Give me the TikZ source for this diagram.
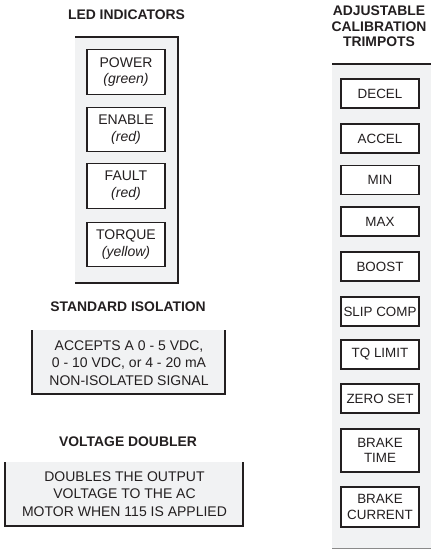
\documentclass[tikz,border=0pt]{standalone}
\usepackage{fontspec}
\setmainfont{Liberation Sans}
\definecolor{ink}{HTML}{231F20}
\definecolor{panelfill}{HTML}{F1F2F3}
\definecolor{edgegray}{HTML}{8A8A8A}
\tikzset{
  title/.style={inner sep=0pt, text=ink, align=center, font=\bfseries\fontsize{13.9}{15.6}\selectfont},
  ledbox/.style={draw=ink, line width=1.2pt, fill=white, minimum width=78pt, minimum height=44.5pt, inner sep=0pt, align=center, text=ink, font=\fontsize{14}{16.8}\selectfont},
  trimbox/.style={draw=ink, line width=1.2pt, fill=white, minimum width=78pt, minimum height=29pt, inner sep=0pt, align=center, text=ink, font=\fontsize{13.4}{15.4}\selectfont},
  infotext/.style={inner sep=0pt, align=center, text=ink, font=\fontsize{14}{17.8}\selectfont},
  border/.style={draw=ink, line width=1.2pt},
}
\begin{document}
\begin{tikzpicture}[x=1pt, y=-1pt]
\useasboundingbox (0,0) rectangle (431,549);
% LED panel
\fill[panelfill] (75,37) rectangle (178,283);
\draw[border] (75,37) -- (178,37) -- (178,283) -- (75,283);
\node[title] (ledtitle) at (126.5,14.5) {LED INDICATORS};
\node[ledbox] (power) at (126,72) {POWER\\\itshape (green)};
\node[ledbox] (enable) at (126,129.5) {ENABLE\\\itshape (red)};
\node[ledbox] (fault) at (126,186) {FAULT\\\itshape (red)};
\node[ledbox] (torque) at (126,244.5) {TORQUE\\\itshape (yellow)};
% Standard isolation
\node[title] (isotitle) at (128,307) {STANDARD ISOLATION};
\fill[panelfill] (32,330) rectangle (225,394);
\draw[border] (32,330) -- (32,394) -- (225,394) -- (225,330);
\node[infotext] (isotext) at (129,363) {ACCEPTS A 0 - 5 VDC,\\0 - 10 VDC, or 4 - 20 mA\\NON-ISOLATED SIGNAL};
% Voltage doubler
\node[title] (vdtitle) at (128,442) {VOLTAGE DOUBLER};
\fill[panelfill] (5,462) rectangle (243,526);
\draw[border] (5,462) -- (5,526) -- (243,526) -- (243,462);
\node[infotext] (vdtext) at (124.5,494) {DOUBLES THE OUTPUT\\VOLTAGE TO THE AC\\MOTOR WHEN 115 IS APPLIED};
% Trimpots
\node[title] (trimtitle) at (379,26.5) {ADJUSTABLE\\CALIBRATION\\TRIMPOTS};
\fill[panelfill] (332,64) rectangle (431,548);
\draw[border] (332,64) -- (431,64);
\draw[edgegray, line width=1pt] (332,548) -- (431,548);
\node[trimbox] (decel) at (380,93.5) {DECEL};
\node[trimbox] (accel) at (380,138.5) {ACCEL};
\node[trimbox] (min) at (380,180) {MIN};
\node[trimbox] (max) at (380,221.5) {MAX};
\node[trimbox] (boost) at (380,266.5) {BOOST};
\node[trimbox] (slip) at (380,311.5) {SLIP COMP};
\node[trimbox] (tq) at (380,354.5) {TQ LIMIT};
\node[trimbox] (zero) at (380,398.5) {ZERO SET};
\node[trimbox, minimum height=43pt] (btime) at (380,450.5) {BRAKE\\TIME};
\node[trimbox, minimum height=40pt] (bcurr) at (380,507) {BRAKE\\CURRENT};
\end{tikzpicture}
\end{document}
